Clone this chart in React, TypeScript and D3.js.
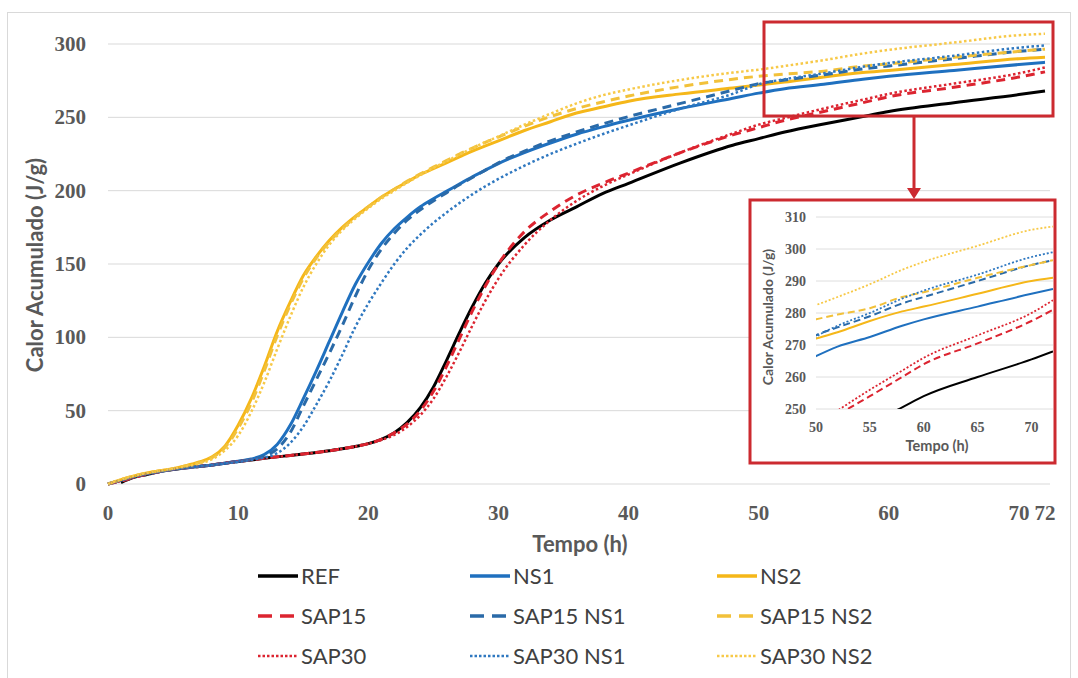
import * as React from "react";
import * as d3 from "d3";

// time points (h) shared by every series
const hours = [0, 1, 2, 3, 4, 5, 6, 7, 8, 9, 10, 11, 12, 13, 14, 15, 16, 17, 18, 19, 20, 21, 22, 23, 24, 25, 26, 27, 28, 29, 30, 32, 34, 36, 38, 40, 44, 48, 50, 52, 55, 58, 60, 65, 70, 72];

// cumulative heat (J/g)
const ref = [null, 1, 4.5, 6.5, 8.5, 9.8, 11, 12, 13, 14.2, 15.3, 16.4, 17.5, 18.5, 19.5, 20.5, 21.5, 22.7, 24, 25.6, 27.5, 30.5, 35, 42, 52, 66, 84, 103, 121, 137, 150, 168, 180, 189, 198, 205, 219, 231, 235.5, 240, 245.5, 250.5, 254, 260, 265.5, 268];
const ns1 = [0, 2.5, 5, 7, 8.5, 10, 11, 12, 13, 14.2, 15.5, 17, 20, 27, 40, 58, 77, 97, 117, 136, 151, 164, 174, 182, 189, 194.5, 199.5, 204.5, 209.5, 214, 218.5, 226, 232.5, 238.5, 243.5, 248, 256, 263, 266.5, 269.5, 272.5, 276, 278, 282, 286, 287.5];
const ns2 = [0, 3, 5.5, 7.5, 9, 10.5, 12.5, 15, 18.5, 26, 40, 58, 80, 104, 124, 142, 155, 166, 175, 182.5, 189, 195.5, 201, 206, 211, 215, 219, 223, 227, 230.5, 234, 241, 247, 253, 257, 261, 266, 270, 272, 274, 277.5, 280.5, 282, 286, 290, 291];
const sap15 = [0, 2, 4.5, 6.8, 8.5, 10, 11, 12, 13, 14.2, 15.3, 16.4, 17.5, 18.5, 19.5, 20.5, 21.5, 22.7, 24, 25.6, 27.5, 30.5, 35, 41, 50, 63, 80, 99, 118, 135, 150, 172, 186, 197, 205, 212, 226, 238, 243, 248, 254, 260, 264, 270.5, 277.5, 281];
const sap15ns1 = [0, 2.5, 5, 7, 8.5, 10, 11, 12, 13, 14.2, 15.5, 16.5, 19, 24, 35, 53, 71, 89, 108, 128, 146, 160, 171, 180, 187, 193, 198.5, 204, 209, 214, 219, 227, 234, 240, 245.5, 250.5, 259.5, 268.5, 273, 275.5, 279, 283, 285, 290, 295, 296.5];
const sap15ns2 = [0, 3, 5.5, 7.5, 9, 10.5, 12.5, 14.5, 18, 25, 38, 55, 77, 101, 122, 140, 154, 165, 174, 182, 189, 195.5, 201, 206.5, 211.5, 216, 220.5, 225, 229, 233, 236.5, 244, 250.5, 256, 260.5, 264.5, 271, 276, 278, 279.5, 281.5, 285, 286.5, 291, 295, 296.5];
const sap30 = [0, 2, 4.5, 6.8, 8.5, 10, 11, 12, 13, 14.2, 15.3, 16.4, 17.5, 18.5, 19.5, 20.5, 21.5, 22.7, 24, 25.6, 27.5, 30, 33.5, 39, 47, 58, 73, 90, 108, 125, 140, 163, 180, 193, 203, 211, 226, 239, 245, 249.5, 256, 262, 266, 273, 280, 284];
const sap30ns1 = [0, 2.5, 5, 7, 8.5, 10, 11, 12, 13, 14, 15, 16.5, 18, 21, 28, 39, 54, 70, 88, 107, 123, 137, 150, 161, 170, 178, 185, 191.5, 197.5, 203, 208, 217, 225, 232, 238.5, 244.5, 256, 266, 272.5, 276, 280, 284.5, 287, 292, 297.5, 299];
const sap30ns2 = [0, 3, 5.5, 7.5, 9, 10.5, 12, 14, 17, 23, 33, 49, 69, 92, 114, 134, 150, 163, 173, 181, 188, 194.5, 200, 205.5, 210.5, 215.5, 220, 224.5, 229, 233, 237, 245, 252.5, 259.5, 265, 269, 275.5, 280.5, 282.5, 285, 289, 293.5, 296, 301, 306, 307];

const seriesNames = ["REF", "NS1", "NS2", "SAP15", "SAP15 NS1", "SAP15 NS2", "SAP30", "SAP30 NS1", "SAP30 NS2"];
const seriesValues = [ref, ns1, ns2, sap15, sap15ns1, sap15ns2, sap30, sap30ns1, sap30ns2];

const yTicks = [0, 50, 100, 150, 200, 250, 300];
const xTicks = [0, 10, 20, 30, 40, 50, 60, 70, 72];
const insetYTicks = [250, 260, 270, 280, 290, 300, 310];
const insetXTicks = [50, 55, 60, 65, 70];

const BLACK = "#000000";
const BLUE = "#1f70bf";
const YELLOW = "#f5b719";
const RED = "#dc2430";
const BOX = "#cc2a30";

const styles = {
    "REF": { color: BLACK, dash: null },
    "NS1": { color: BLUE, dash: null },
    "NS2": { color: YELLOW, dash: null },
    "SAP15": { color: RED, dash: "dash" },
    "SAP15 NS1": { color: "#2a6aa8", dash: "dash" },
    "SAP15 NS2": { color: "#f2c13a", dash: "dash" },
    "SAP30": { color: RED, dash: "dot" },
    "SAP30 NS1": { color: "#2f78c0", dash: "dot" },
    "SAP30 NS2": { color: "#f7c948", dash: "dot" },
};

const serifFont = "'Liberation Serif', 'Times New Roman', serif";
const sansFont = "Lato, 'Open Sans', sans-serif";
const textGray = "#595959";

function dashArray(kind, big) {
    if (kind === "dash") return big ? "9,6" : "7,4";
    if (kind === "dot") return big ? "2.5,2.5" : "2,2";
    return null;
}

export default function App() {
    const x = d3.scaleLinear().domain([0, 72]).range([108, 1045]);
    const y = d3.scaleLinear().domain([0, 300]).range([484, 44]);

    const ix = d3.scaleLinear().domain([50, 72]).range([816, 1053]);
    const iy = d3.scaleLinear().domain([250, 310]).range([409, 217]);

    const rows = seriesNames.map((name, i) =>
        hours.map((h, j) => ({ t: h, v: seriesValues[i][j] }))
    );

    const line = d3.line()
        .defined(d => d.v != null)
        .x(d => x(d.t))
        .y(d => y(d.v))
        .curve(d3.curveMonotoneX);

    const insetLine = d3.line()
        .defined(d => d.v != null)
        .x(d => ix(d.t))
        .y(d => iy(d.v))
        .curve(d3.curveMonotoneX);

    const legendCols = [258, 470, 717];
    const legendRows = [576, 616, 656];

    return (
        <svg width={1078} height={678} style={{ position: "absolute", left: 0, top: 0, background: "#fff" }}>
            <defs>
                <clipPath id="insetClip">
                    <rect x={ix(50)} y={iy(310) - 2} width={ix(72) - ix(50)} height={iy(250) - iy(310) + 2} />
                </clipPath>
            </defs>

            {/* outer frame */}
            <rect x={7.5} y={12.5} width={1063} height={680} fill="none" stroke="#d9d9d9" strokeWidth={1} />

            {/* gridlines */}
            {yTicks.map(t => (
                <line key={"g" + t} x1={x(0)} x2={x(72) + 5} y1={y(t)} y2={y(t)} stroke="#d9d9d9" strokeWidth={1} />
            ))}

            {/* y tick labels */}
            {yTicks.map(t => (
                <text key={"yl" + t} x={86} y={y(t) + 7} textAnchor="end" fontFamily={serifFont} fontWeight="bold" fontSize={21} fill={textGray}>{t}</text>
            ))}

            {/* x tick labels */}
            {xTicks.map(t => (
                <text key={"xl" + t} x={x(t)} y={520} textAnchor="middle" fontFamily={serifFont} fontWeight="bold" fontSize={21} fill={textGray}>{t}</text>
            ))}

            <text transform="translate(43,265) rotate(-90)" textAnchor="middle" fontFamily={sansFont} fontWeight="bold" fontSize={22} fill={textGray}>Calor Acumulado (J/g)</text>
            <text x={580} y={552} textAnchor="middle" fontFamily={sansFont} fontWeight="bold" fontSize={22} fill={textGray}>Tempo (h)</text>

            {/* series */}
            {rows.map((r, i) => {
                const st = styles[seriesNames[i]];
                return (
                    <path key={"s" + i} d={line(r)} fill="none" stroke={st.color}
                        strokeWidth={st.dash === "dot" ? 2.5 : 3}
                        strokeDasharray={dashArray(st.dash, true)} />
                );
            })}

            {/* highlight box + arrow */}
            <rect x={764} y={22} width={289} height={94} fill="none" stroke={BOX} strokeWidth={3} />
            <line x1={914} x2={914} y1={116} y2={190} stroke={BOX} strokeWidth={3} />
            <polygon points="907,188 921,188 914,199" fill={BOX} />

            {/* inset */}
            <rect x={750} y={200} width={305} height={263} fill="#fff" stroke={BOX} strokeWidth={3} />
            {insetYTicks.map(t => (
                <line key={"ig" + t} x1={ix(50)} x2={ix(72)} y1={iy(t)} y2={iy(t)} stroke="#dedede" strokeWidth={1} />
            ))}
            {insetYTicks.map(t => (
                <text key={"iyl" + t} x={806} y={iy(t) + 5} textAnchor="end" fontFamily={serifFont} fontWeight="bold" fontSize={14} fill={textGray}>{t}</text>
            ))}
            {insetXTicks.map(t => (
                <text key={"ixl" + t} x={ix(t)} y={432} textAnchor="middle" fontFamily={serifFont} fontWeight="bold" fontSize={14} fill={textGray}>{t}</text>
            ))}
            <text transform="translate(773,317) rotate(-90)" textAnchor="middle" fontFamily={sansFont} fontWeight="bold" fontSize={14} fill={textGray}>Calor Acumulado (J/g)</text>
            <text x={937} y={451} textAnchor="middle" fontFamily={sansFont} fontWeight="bold" fontSize={14.5} fill={textGray}>Tempo (h)</text>
            <g clipPath="url(#insetClip)">
                {rows.map((r, i) => {
                    const st = styles[seriesNames[i]];
                    return (
                        <path key={"is" + i} d={insetLine(r.filter(d => d.t >= 48))} fill="none" stroke={st.color}
                            strokeWidth={st.dash === "dot" ? 1.8 : 2}
                            strokeDasharray={dashArray(st.dash, false)} />
                    );
                })}
            </g>

            {/* legend */}
            {seriesNames.map((name, i) => {
                const st = styles[name];
                const lx = legendCols[i % 3];
                const ly = legendRows[Math.floor(i / 3)];
                return (
                    <g key={"lg" + i}>
                        <line x1={lx} x2={lx + 40} y1={ly} y2={ly} stroke={st.color}
                            strokeWidth={st.dash === "dot" ? 2.5 : 3.5}
                            strokeDasharray={st.dash === "dash" ? "14,8" : st.dash === "dot" ? "2.5,2" : null} />
                        <text x={lx + 43} y={ly + 8} fontFamily={sansFont} fontSize={22} fill="#404040">{name}</text>
                    </g>
                );
            })}
        </svg>
    );
}
